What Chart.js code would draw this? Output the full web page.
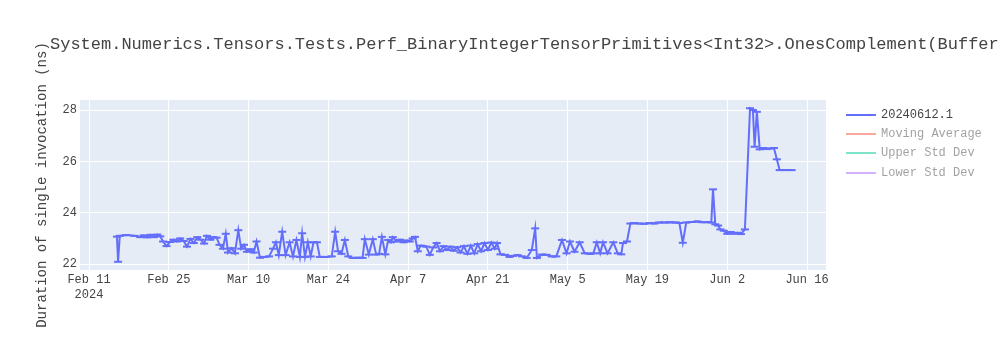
<!DOCTYPE html>
<html>
<head>
<meta charset="utf-8">
<script src="https://cdn.jsdelivr.net/npm/chart.js@4/dist/chart.umd.min.js"></script>
<style>
  html,body{margin:0;padding:0;background:#fff;}
  #wrap{position:relative;width:1000px;height:350px;overflow:hidden;font-family:'Liberation Mono','Courier New',monospace;}
  #ttl{position:absolute;left:50px;top:35px;font-size:17px;line-height:20px;color:#444;white-space:nowrap;}
  #leg{position:absolute;left:846px;top:105px;}
  .leg-item{display:flex;align-items:center;height:19.3px;font-size:12px;}
  .leg-item i{display:block;width:30px;height:2px;margin-right:5px;}
</style>
</head>
<body>
<div id="wrap">
  <canvas id="chart" width="1000" height="350"></canvas>
  <div id="ttl"></div>
  <div id="leg"></div>
</div>
<script>
/* ===========================================================
   Perf run history — single invocation duration (ns)
   x = days since 2024-02-11
   =========================================================== */
var TITLE='System.Numerics.Tensors.Tests.Perf_BinaryIntegerTensorPrimitives<Int32>.OnesComplement(Buffer';
var Y_TITLE='Duration of single invocation (ns)';

var runDay=[4.9,5.1,5.4,6.5,8.0,9.0,9.6,10.2,10.8,11.4,12.0,12.5,13.0,13.6,14.2,14.8,15.4,16.0,16.6,17.2,
  17.8,18.4,19.0,19.6,20.2,20.7,21.3,21.8,22.4,22.9,23.5,24.0,24.4,25.0,25.6,26.2,26.7,27.2,27.7,28.3,
  28.9,29.4,30.0,30.8,31.6,32.3,32.8,33.3,33.9,34.5,35.2,35.8,36.4,37.0,37.4,37.9,38.4,38.9,39.4,40.0,
  40.5,41.5,42.6,43.2,43.7,44.3,44.9,45.5,46.3,47.2,48.0,48.4,49.1,49.8,50.4,50.9,51.4,52.0,52.5,53.0,
  53.3,54.0,54.6,55.2,55.8,56.3,56.8,57.2,57.7,58.2,58.6,59.2,59.8,60.4,61.0,61.6,62.2,62.8,63.4,64.0,
  64.6,65.2,65.8,66.4,67.0,67.6,68.2,68.8,69.4,70.0,70.6,71.2,71.6,72.2,73.0,73.8,74.4,75.2,76.0,76.8,
  77.7,78.3,78.6,79.5,80.3,81.2,82.0,83.0,83.8,84.4,85.2,86.1,87.0,88.0,88.5,89.1,89.7,90.2,91.0,92.0,
  92.8,93.4,93.7,94.4,95.0,95.6,96.5,97.5,98.4,99.2,100.0,101.0,102.0,103.0,103.6,104.2,104.8,105.8,106.8,107.6,
  108.5,109.2,109.5,109.9,110.4,110.8,111.4,112.0,112.6,113.2,113.8,114.4,115.1,116.0,116.5,116.8,117.2,117.7,118.3,118.9,
  119.5,120.2,120.7,121.2,122.2,123.3];
var runNs=[23.07,22.09,23.10,23.13,23.10,23.05,23.12,23.04,23.14,23.05,23.15,23.08,22.88,22.70,22.86,22.95,22.88,23.00,22.90,22.68,
  22.98,22.82,23.05,22.95,22.80,23.10,22.95,23.05,23.03,22.75,22.60,23.18,22.45,22.62,22.42,23.32,22.60,22.75,22.48,22.58,
  22.45,22.88,22.25,22.28,22.30,22.60,22.85,22.35,23.26,22.35,22.85,22.30,22.94,22.28,23.20,22.28,22.85,22.30,22.85,22.85,
  22.28,22.28,22.30,23.26,22.50,22.40,22.94,22.30,22.24,22.25,22.24,22.97,22.37,22.97,22.37,22.40,23.06,22.38,22.94,22.85,
  23.05,22.88,22.95,22.85,22.92,22.88,23.00,23.06,22.50,22.72,22.70,22.68,22.36,22.65,22.82,22.50,22.70,22.55,22.68,22.52,
  22.66,22.45,22.70,22.40,22.72,22.42,22.78,22.50,22.82,22.55,22.84,22.60,22.82,22.38,22.36,22.28,22.32,22.35,22.30,22.24,
  22.55,23.39,22.24,22.37,22.36,22.30,22.30,22.94,22.42,22.88,22.48,22.85,22.42,22.40,22.42,22.85,22.42,22.85,22.42,22.85,
  22.42,22.38,22.82,22.88,23.58,23.60,23.58,23.57,23.60,23.58,23.62,23.62,23.63,23.62,23.60,22.83,23.62,23.64,23.66,23.63,
  23.64,23.62,24.91,23.55,23.50,23.35,23.30,23.18,23.25,23.18,23.22,23.17,23.35,28.07,28.00,26.57,27.93,26.47,26.52,26.48,
  26.50,26.52,26.08,25.66,25.66,25.66];

var xTickDays=[0,14,28,42,56,70,84,98,112,126];
var xTickLabels=[['Feb 11','2024'],'Feb 25','Mar 10','Mar 24','Apr 7','Apr 21','May 5','May 19','Jun 2','Jun 16'];
var yTicks=[22,24,26,28];

var seriesNames=['20240612.1','Moving Average','Upper Std Dev','Lower Std Dev'];
var seriesColors=['#636efa','#EF553B','#00cc96','#ab63fa'];
var seriesShown=[true,false,false,false];

var FONT="'Liberation Mono','Courier New',monospace";

document.getElementById('ttl').textContent=TITLE;

function drawLeg(id){
  var ct=document.getElementById(id);ct.innerHTML='';
  seriesNames.forEach(function(n,i){
    var e=document.createElement('div');e.className='leg-item';
    e.style.opacity=seriesShown[i]?1:0.5;
    e.innerHTML='<i style="background:'+seriesColors[i]+'"></i><span style="color:#444">'+n+'</span>';
    ct.appendChild(e);
  });
}
drawLeg('leg');

/* plot background like plotly */
var bgPlugin={id:'plotBg',beforeDraw:function(c){
  var a=c.chartArea,ctx=c.ctx;ctx.save();ctx.fillStyle='#E5ECF6';
  ctx.fillRect(a.left,a.top,a.right-a.left,a.bottom-a.top);ctx.restore();
}};

var pts=runDay.map(function(d,i){return{x:d,y:runNs[i]};});
var ds=[{label:seriesNames[0],data:pts,borderColor:seriesColors[0],backgroundColor:seriesColors[0],
  borderWidth:2,pointStyle:'line',pointRadius:4,pointBorderWidth:2,pointHoverRadius:4,tension:0}];
/* the three statistic series are hidden (legend only) in the original */
for(var k=1;k<seriesNames.length;k++){
  ds.push({label:seriesNames[k],data:[],borderColor:seriesColors[k],hidden:true});
}

new Chart(document.getElementById('chart').getContext('2d'),{
  type:'line',
  data:{datasets:ds},
  plugins:[bgPlugin],
  options:{
    responsive:false,animation:false,
    layout:{padding:{top:100,right:174,left:0,bottom:0}},
    plugins:{legend:{display:false},tooltip:{enabled:false}},
    scales:{
      x:{type:'linear',min:-1.58,max:129.33,
        afterBuildTicks:function(s){s.ticks=xTickDays.map(function(v){return{value:v};});},
        afterFit:function(s){s.height=80;},
        grid:{color:'#fff',lineWidth:1,drawTicks:false},border:{display:false},
        ticks:{padding:3,maxRotation:0,autoSkip:false,color:'#444',font:{family:FONT,size:12},
          callback:function(v,i){return xTickLabels[i];}}},
      y:{min:21.77,max:28.39,
        afterBuildTicks:function(s){s.ticks=yTicks.map(function(v){return{value:v};});},
        afterFit:function(s){s.width=80;},
        grid:{color:'#fff',lineWidth:1,drawTicks:false},border:{display:false},
        title:{display:true,text:Y_TITLE,color:'#444',font:{family:FONT,size:14},padding:{top:34,bottom:0}},
        ticks:{padding:3,color:'#444',font:{family:FONT,size:12}}}
    }
  }
});
</script>
</body>
</html>
